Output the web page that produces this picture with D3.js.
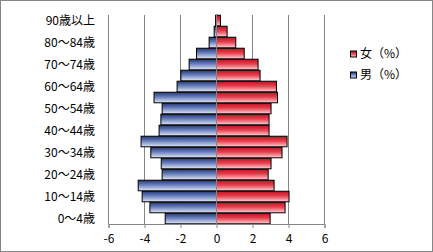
<!DOCTYPE html>
<html><head><meta charset="utf-8">
<script src="https://cdn.jsdelivr.net/npm/d3@7"></script>
<style>
html,body{margin:0;padding:0;background:#fff;}
svg{display:block;}
text{font-family:"Noto Sans CJK JP","Noto Sans",sans-serif;}
</style></head>
<body>
<script>
const categories = ["0～4歳","5～9歳","10～14歳","15～19歳","20～24歳","25～29歳","30～34歳","35～39歳","40～44歳","45～49歳","50～54歳","55～59歳","60～64歳","65～69歳","70～74歳","75～79歳","80～84歳","85～89歳","90歳以上"];
const male = [2.85,3.70,4.13,4.35,3.02,3.07,3.65,4.19,3.19,3.09,3.02,3.47,2.19,1.98,1.52,1.11,0.41,0.13,0.05];
const female = [2.98,3.81,4.03,3.20,2.87,3.03,3.64,3.92,2.92,2.92,3.03,3.39,3.33,2.42,2.31,1.54,1.07,0.59,0.22];
const xTicks = [-6,-4,-2,0,2,4,6];
const seriesNames = ["女（%）","男（%）"];

const W=433,H=252;
const svg=d3.select("body").append("svg").attr("width",W).attr("height",H);
const defs=svg.append("defs");
function grad(id,c0,c1,c2){
  const g=defs.append("linearGradient").attr("id",id).attr("x1",0).attr("y1",0).attr("x2",0).attr("y2",1);
  g.append("stop").attr("offset","0%").attr("stop-color",c0);
  g.append("stop").attr("offset","45%").attr("stop-color",c1);
  g.append("stop").attr("offset","100%").attr("stop-color",c2);
}
grad("gBlue","#22367a","#6a80bb","#e2e7f3");
grad("gRed","#c4101e","#e2404e","#f7d3d7");

svg.append("rect").attr("x",0.5).attr("y",0.5).attr("width",W-1).attr("height",H-1)
  .attr("fill","#fff").attr("stroke","#868686");

const plotL=108.5, plotR=324.5, plotT=15, plotB=224;
const x=d3.scaleLinear().domain([-6,6]).range([plotL,plotR]);
const y=d3.scaleBand().domain(categories.slice().reverse()).range([plotT,plotB]).paddingInner(0.04).paddingOuter(0.02);

// gridlines
svg.append("g").selectAll("line").data(xTicks).join("line")
  .attr("x1",d=>x(d)).attr("x2",d=>x(d)).attr("y1",plotT).attr("y2",plotB)
  .attr("stroke","#868686").attr("stroke-width",1);

// bars
svg.append("g").selectAll("rect").data(categories).join("rect")
  .attr("x",(d,i)=>x(-male[i])).attr("y",d=>y(d))
  .attr("width",(d,i)=>x(0)-x(-male[i])).attr("height",y.bandwidth())
  .attr("fill","url(#gBlue)").attr("stroke","#000").attr("stroke-width",1);
svg.append("g").selectAll("rect").data(categories).join("rect")
  .attr("x",x(0)).attr("y",d=>y(d))
  .attr("width",(d,i)=>x(female[i])-x(0)).attr("height",y.bandwidth())
  .attr("fill","url(#gRed)").attr("stroke","#000").attr("stroke-width",1);

// bottom axis
const xa=svg.append("g").attr("transform",`translate(0,${plotB})`)
  .call(d3.axisBottom(x).tickValues(xTicks).tickSize(4).tickPadding(6).tickFormat(d=>String(d)));
xa.select(".domain").attr("stroke","#868686");
xa.selectAll(".tick line").attr("stroke","#868686");
xa.selectAll("text").attr("font-size",12).attr("fill","#000").style("font-family","'Noto Sans CJK JP',sans-serif");

// category axis at zero
const ya=svg.append("g").attr("transform",`translate(${x(0)},0)`)
  .call(d3.axisLeft(y).tickValues(categories.filter((d,i)=>i%2===0)).tickSize(0).tickFormat(""));
ya.select(".domain").attr("stroke","#868686").attr("d",`M0,${plotT}V${plotB}`);

// category labels at left
svg.append("g").selectAll("text").data(categories.filter((d,i)=>i%2===0)).join("text")
  .attr("x",95).attr("y",d=>y(d)+y.bandwidth()/2).attr("dy","0.36em")
  .attr("text-anchor","end").attr("font-size",12).attr("fill","#000").text(d=>d);

// legend
const leg=svg.append("g");
const legItems=[{name:seriesNames[0],fill:"url(#gRed)",y:54},{name:seriesNames[1],fill:"url(#gBlue)",y:75}];
legItems.forEach(it=>{
  leg.append("rect").attr("x",350.5).attr("y",it.y-3).attr("width",6).attr("height",6)
    .attr("fill",it.fill).attr("stroke","#000").attr("stroke-width",1);
  leg.append("text").attr("x",360).attr("y",it.y).attr("dy","0.36em").attr("font-size",12).attr("fill","#000").text(it.name);
});
</script>
</body></html>
